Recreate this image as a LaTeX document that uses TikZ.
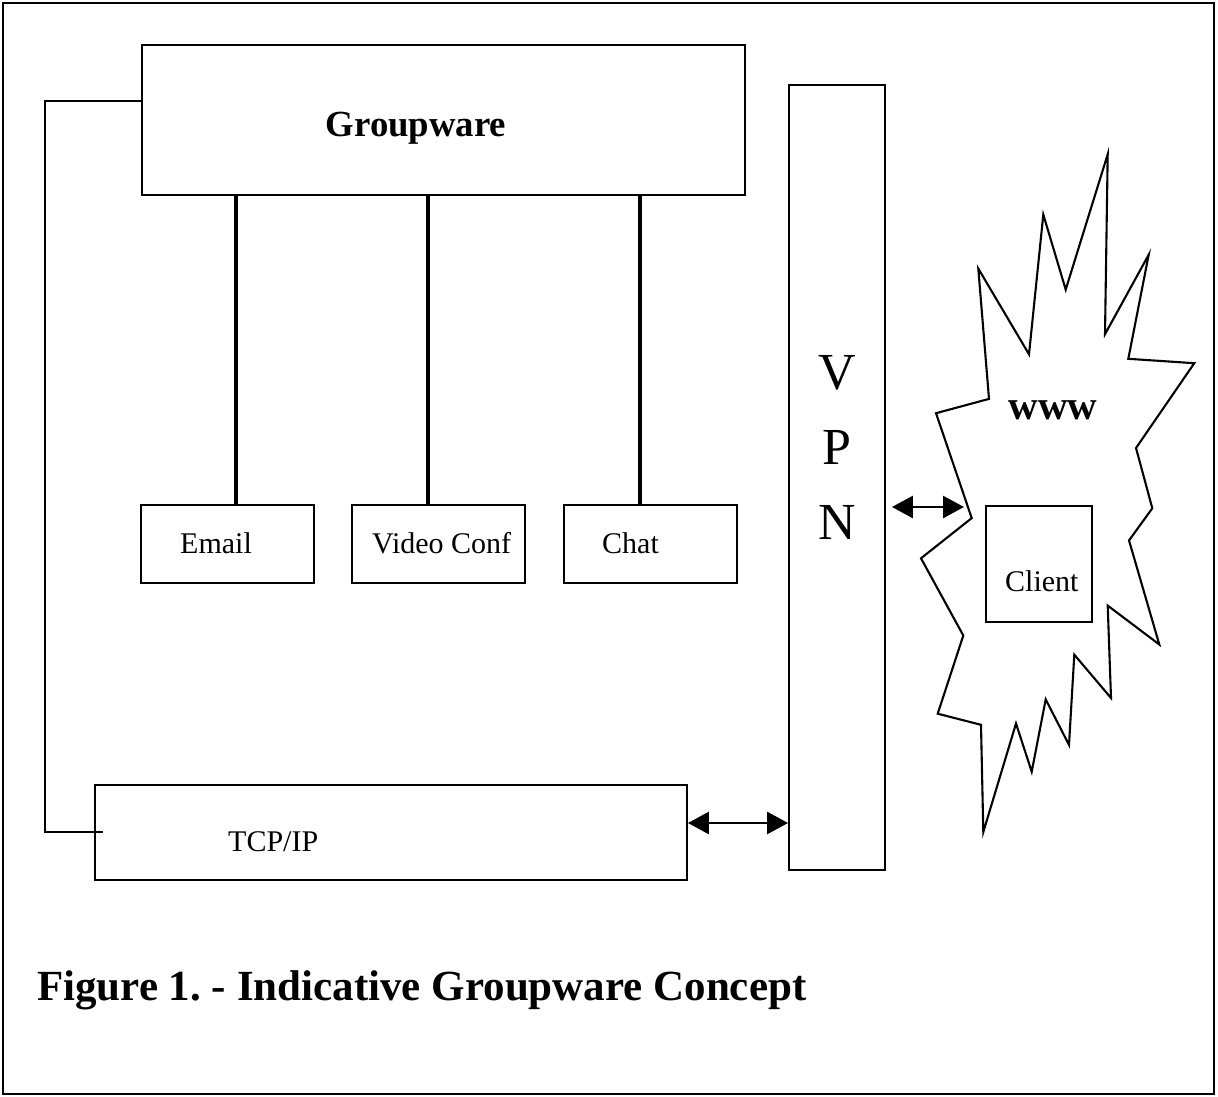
\documentclass[tikz,border=0pt]{standalone}
\usepackage{fontspec}
\setmainfont{Liberation Serif}
\usetikzlibrary{arrows.meta}
\begin{document}
\frenchspacing
\begin{tikzpicture}[x=1pt,y=-1pt,
  box/.style={draw, line width=1.9pt, inner sep=0pt},
  smallbox/.style={draw, line width=1.4pt, inner sep=0pt, minimum width=173pt, minimum height=78pt},
  txt/.style={inner sep=0pt, anchor=base west, font=\fontsize{30}{36}\selectfont},
  link/.style={line width=3.3pt},
  thinlink/.style={line width=1.3pt},
  biarrow/.style={line width=2.8pt, {Triangle[length=21pt,width=22pt]}-{Triangle[length=21pt,width=22pt]}}
]
\useasboundingbox (0,0) rectangle (1218,1097);
\draw[line width=1.6pt] (3,3) rectangle (1214,1094);

% boxes
\node[box, minimum width=603pt, minimum height=150pt] (gw) at (443.5,120) {};
\node[smallbox] (email) at (227.5,544) {};
\node[smallbox] (video) at (438.5,544) {};
\node[smallbox] (chat) at (650.5,544) {};
\node[box, minimum width=96pt, minimum height=785pt] (vpn) at (837,477.5) {};
\node[box, minimum width=592pt, minimum height=95pt] (tcp) at (391,832.5) {};

% texts
\node[inner sep=0pt, anchor=base, font=\bfseries\fontsize{36.8}{40}\selectfont] (gwt) at (416,136.5) {Groupware};
\node[txt] (emailt) at (180,553) {Email};
\node[txt] (videot) at (372,553) {Video Conf};
\node[txt] (chatt) at (602,553) {Chat};
\node[txt] (tcpt) at (228,851) {TCP/IP};
\node[inner sep=0pt, anchor=base, font=\fontsize{52}{60}\selectfont] (v) at (837,389.5) {V};
\node[inner sep=0pt, anchor=base, font=\fontsize{52}{60}\selectfont] (p) at (837,464.5) {P};
\node[inner sep=0pt, anchor=base, font=\fontsize{52}{60}\selectfont] (n) at (837,539.5) {N};

% links from Groupware to services
\coordinate (x1) at (236,0);
\coordinate (x2) at (428,0);
\coordinate (x3) at (640,0);
\draw[link] (gw.south -| x1) -- (email.north -| x1);
\draw[link] (gw.south -| x2) -- (video.north -| x2);
\draw[link] (gw.south -| x3) -- (chat.north -| x3);

% Groupware to TCP/IP connector
\coordinate (y1) at (0,101);
\coordinate (tcpin) at (103,832);
\draw[thinlink] (gw.west |- y1) -- (45,101) -- (45,832) -- (tcpin);

% WWW starburst
\draw[line width=2.1pt, line join=miter]
  (1107.7,154.3) -- (1105,334.2) -- (1148.7,254.7) -- (1128.3,358.8) -- (1194.3,363.2)
  -- (1136,448) -- (1152.3,508.3) -- (1129,540.4) -- (1159.3,644.5) -- (1107.7,605.6)
  -- (1111,698) -- (1074.3,654.7) -- (1069,744.9) -- (1045.7,699.4) -- (1031.7,771.7)
  -- (1016,723.5) -- (983.3,832) -- (981,724.8) -- (937.7,713.7) -- (963.3,635.5)
  -- (921,558.3) -- (971.7,518.1) -- (936,413.2) -- (989,398.9) -- (978.3,268.6)
  -- (1029,354.3) -- (1043.3,214.6) -- (1065.7,289.6) -- cycle;
\coordinate (wwwin) at (964,507);
\node[inner sep=0pt, anchor=base, font=\bfseries\fontsize{41}{44}\selectfont] (www) at (1053,419) {www};
\node[draw, line width=1.5pt, inner sep=0pt, minimum width=106pt, minimum height=116pt] (client) at (1039,564) {};
\node[txt] (clientt) at (1005,591) {Client};

% arrows
\coordinate (a1) at (0,823);
\coordinate (a2) at (0,507);
\draw[biarrow] (tcp.east |- a1) -- (vpn.west |- a1);
\draw[biarrow, shorten <=6pt] (vpn.east |- a2) -- (wwwin);

% caption
\node[inner sep=0pt, anchor=base west, font=\bfseries\fontsize{43}{48}\selectfont] (cap) at (37,1000) {Figure 1. - Indicative Groupware Concept};
\end{tikzpicture}
\end{document}
